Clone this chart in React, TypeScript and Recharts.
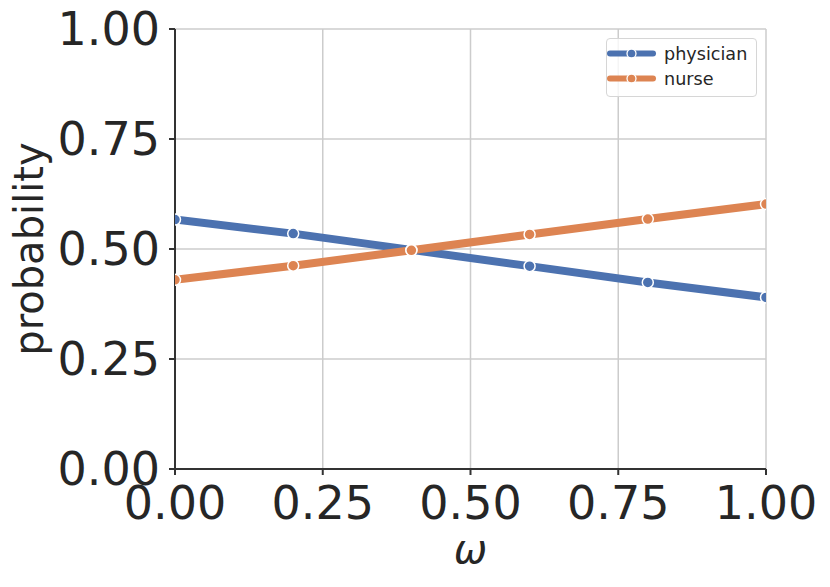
import React from 'react';
import { LineChart, Line, XAxis, YAxis, CartesianGrid } from 'recharts';

const omega = [0, 0.2, 0.4, 0.6, 0.8, 1.0];
const physician = [0.567, 0.535, 0.498, 0.461, 0.424, 0.39];
const nurse = [0.43, 0.462, 0.497, 0.533, 0.568, 0.602];
const xTicks = [0, 0.25, 0.5, 0.75, 1.0];
const yTicks = [0, 0.25, 0.5, 0.75, 1.0];
const seriesNames = ['physician', 'nurse'];
const seriesColors = ['#4c72b0', '#dd8452'];

const data = omega.map((w, i) => ({ w, physician: physician[i], nurse: nurse[i] }));

const FONT = '"DejaVu Sans", sans-serif';
const TEXT = '#262626';

const LegendBox = () => (
  <div
    style={{
      position: 'absolute',
      left: 606,
      top: 38,
      width: 151,
      height: 59,
      boxSizing: 'border-box',
      border: '1px solid #d6d6d6',
      borderRadius: 4,
      background: 'rgba(255,255,255,0.8)',
    }}
  >
    <svg width={149} height={57} style={{ display: 'block' }}>
      {seriesNames.map((name, i) => {
        const cy = 14.5 + i * 25;
        return (
          <g key={name}>
            <line x1={3} x2={46} y1={cy} y2={cy} stroke={seriesColors[i]} strokeWidth={6} strokeLinecap="round" />
            <circle cx={24.5} cy={cy} r={4.5} fill={seriesColors[i]} stroke="#fff" strokeWidth={1.3} />
            <text x={57} y={cy} dy="0.36em" fontSize={17.6} fontFamily={FONT} fill={TEXT}>
              {name}
            </text>
          </g>
        );
      })}
    </svg>
  </div>
);

const XLabel = (props: any) => {
  const vb = props.viewBox || { x: 175, y: 469, width: 591, height: 118 };
  return (
    <text
      x={vb.x + vb.width / 2}
      y={vb.y + 94}
      textAnchor="middle"
      fontSize={40}
      fontStyle="italic"
      fontFamily={FONT}
      fill={TEXT}
    >
      ω
    </text>
  );
};

const YLabel = (props: any) => {
  const vb = props.viewBox || { x: 0, y: 29, width: 175, height: 440 };
  const x = vb.x + 43;
  const y = vb.y + vb.height / 2;
  return (
    <text
      x={x}
      y={y}
      transform={`rotate(-90, ${x}, ${y})`}
      textAnchor="middle"
      fontSize={40}
      fontFamily={FONT}
      fill={TEXT}
    >
      probability
    </text>
  );
};

const fmt = (v: number) => v.toFixed(2);

export default function App() {
  return (
    <div style={{ position: 'absolute', left: 0, top: 0, width: 830, height: 587, background: '#fff' }}>
      <LineChart width={830} height={587} data={data} margin={{ top: 29, right: 64, left: 0, bottom: 0 }}>
        <CartesianGrid stroke="#cccccc" strokeWidth={1.5} />
        <XAxis
          dataKey="w"
          type="number"
          domain={[0, 1]}
          ticks={xTicks}
          tickFormatter={fmt}
          allowDataOverflow
          height={118}
          tickSize={6}
          tickMargin={11}
          stroke="#333333"
          strokeWidth={2}
          tick={{ fontSize: 46, fontFamily: FONT, fill: TEXT }}
          interval={0}
          label={<XLabel />}
        />
        <YAxis
          type="number"
          domain={[0, 1]}
          ticks={yTicks}
          tickFormatter={fmt}
          allowDataOverflow
          width={175}
          tickSize={6}
          tickMargin={9}
          stroke="#333333"
          strokeWidth={2}
          tick={{ fontSize: 46, fontFamily: FONT, fill: TEXT }}
          interval={0}
          label={<YLabel />}
        />
        {seriesNames.map((name, i) => (
          <Line
            key={name}
            dataKey={name}
            stroke={seriesColors[i]}
            strokeWidth={8}
            dot={{ r: 5.5, fill: seriesColors[i], stroke: '#fff', strokeWidth: 1.5 }}
            activeDot={false}
            isAnimationActive={false}
          />
        ))}
      </LineChart>
      <LegendBox />
    </div>
  );
}
